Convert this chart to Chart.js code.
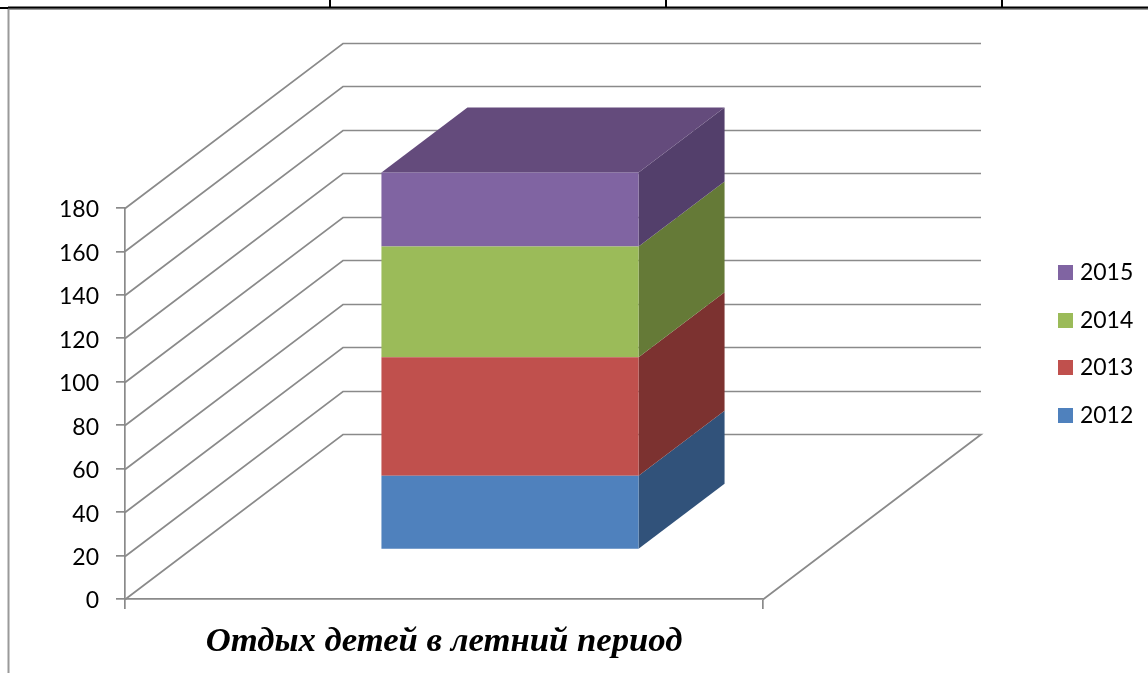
<!DOCTYPE html>
<html><head><meta charset="utf-8">
<script src="https://cdn.jsdelivr.net/npm/chart.js@4"></script>
<style>html,body{margin:0;padding:0;background:#fff;overflow:hidden}canvas{display:block}</style>
</head><body><canvas id="c" width="1148" height="673"></canvas>
<script>
const categories = [''];
const seriesNames = ['2012','2013','2014','2015'];
const values2012 = [34];
const values2013 = [54.5];
const values2014 = [51];
const values2015 = [34];
const frontColors = ['#4F81BD','#C0504D','#9BBB59','#8064A2'];
const sideColors = ['#31527A','#7C3230','#657A37','#533F6B'];
const topColor = '#644B7C';
const titleText = 'Отдых детей в летний период';
const GRID = '#8A8A8A';
const WALL = {dx:218, dy:-165};
const BAR_NEAR = {dx:66, dy:-49.5};
const BAR_FAR = {dx:152, dy:-114.5};

const poly = (ctx, pts, fill) => {
  ctx.beginPath();
  pts.forEach((p,i)=> i?ctx.lineTo(p[0],p[1]):ctx.moveTo(p[0],p[1]));
  ctx.closePath();
  ctx.fillStyle = fill; ctx.fill();
};
const swatch = color => {
  const c = document.createElement('canvas');
  c.width = 15; c.height = 15;
  const g = c.getContext('2d');
  g.fillStyle = color; g.fillRect(0,0,15,15);
  return c;
};

const threeD = {
  id:'threeD',
  afterLayout(chart){
    const l = chart.legend;
    const w = l.width, h = l.height;
    l.left = 1038; l.right = l.left + w;
    l.top = 237; l.bottom = l.top + h;
  },
  beforeDraw(chart){
    const ctx = chart.ctx;
    ctx.save();
    ctx.strokeStyle = '#9a9a9a'; ctx.lineWidth = 2;
    ctx.beginPath(); ctx.moveTo(8.5,673); ctx.lineTo(8.5,9); ctx.lineTo(1148,9); ctx.stroke();
    ctx.strokeStyle = '#000'; ctx.lineWidth = 2;
    ctx.beginPath(); ctx.moveTo(0,8); ctx.lineTo(8,8); ctx.moveTo(8,7.5); ctx.lineTo(1148,7.5);
    [330,666,1002].forEach(x=>{ctx.moveTo(x,0);ctx.lineTo(x,7);});
    ctx.stroke();
    ctx.restore();
  },
  beforeDatasetsDraw(chart){
    const ctx = chart.ctx, y = chart.scales.y, x = chart.scales.x;
    const L = x.left, R = x.right;
    ctx.save();
    ctx.strokeStyle = GRID; ctx.lineWidth = 1.7;
    y.ticks.forEach(t=>{
      const py = Math.round(y.getPixelForValue(t.value))+.5;
      ctx.beginPath();
      ctx.moveTo(L,py);
      ctx.lineTo(L+WALL.dx,py+WALL.dy);
      ctx.lineTo(R+WALL.dx,py+WALL.dy);
      if(t.value===0) ctx.lineTo(R,py);
      ctx.stroke();
    });
    chart.data.datasets.forEach((d,i)=>{
      const el = chart.getDatasetMeta(i).data[0];
      const xr = el.x + el.width/2 + BAR_NEAR.dx;
      const yT = el.y + BAR_NEAR.dy, yB = el.base + BAR_NEAR.dy;
      const ddx = BAR_FAR.dx-BAR_NEAR.dx, ddy = BAR_FAR.dy-BAR_NEAR.dy;
      poly(ctx,[[xr,yT],[xr+ddx,yT+ddy],[xr+ddx,yB+ddy],[xr,yB]],sideColors[i]);
      if(i===chart.data.datasets.length-1){
        const xl = el.x - el.width/2 + BAR_NEAR.dx;
        poly(ctx,[[xl,yT],[xl+ddx,yT+ddy],[xr+ddx,yT+ddy],[xr,yT]],topColor);
      }
    });
    ctx.restore();
  },
  beforeDatasetDraw(chart){ chart.ctx.save(); chart.ctx.translate(BAR_NEAR.dx,BAR_NEAR.dy); },
  afterDatasetDraw(chart){ chart.ctx.restore(); }
};

const allValues = [values2012,values2013,values2014,values2015];
new Chart(document.getElementById('c'),{
  type:'bar',
  data:{labels:categories,datasets:seriesNames.map((n,i)=>({
    label:n,data:allValues[i],backgroundColor:frontColors[i],borderWidth:0,
    barPercentage:0.403,categoryPercentage:1,clip:false
  }))},
  options:{
    responsive:false,animation:false,
    layout:{padding:{top:208,right:385,left:0,bottom:0}},
    plugins:{
      tooltip:{enabled:false},
      legend:{position:'chartArea',reverse:true,align:'start',
        labels:{usePointStyle:true,pointStyleWidth:6,boxHeight:15,padding:24.4,color:'#000',
          font:{family:'Lato',size:23},
          generateLabels(chart){
            return Chart.defaults.plugins.legend.labels.generateLabels(chart)
              .map(it=>Object.assign(it,{pointStyle:swatch(frontColors[it.datasetIndex])}));
          }}}
    },
    scales:{
      x:{stacked:true,
        afterFit(s){s.height=74;},
        grid:{drawOnChartArea:false,drawTicks:true,tickLength:10,color:GRID,lineWidth:1.7},
        border:{display:true,color:GRID,width:1.7},
        ticks:{display:false},
        title:{display:true,text:titleText,color:'#000',padding:{top:0,bottom:10},
          font:{family:'Liberation Serif',size:34.7,weight:'bold',style:'italic'}}
      },
      y:{stacked:true,min:0,max:180,
        afterFit(s){s.width=125;},
        grid:{drawOnChartArea:false,drawTicks:true,tickLength:9,color:GRID,lineWidth:1.7},
        border:{display:true,color:GRID,width:1.7},
        ticks:{stepSize:20,padding:17,labelOffset:2,color:'#000',font:{family:'Lato',size:23}}
      }
    }
  },
  plugins:[threeD]
});
</script></body></html>
